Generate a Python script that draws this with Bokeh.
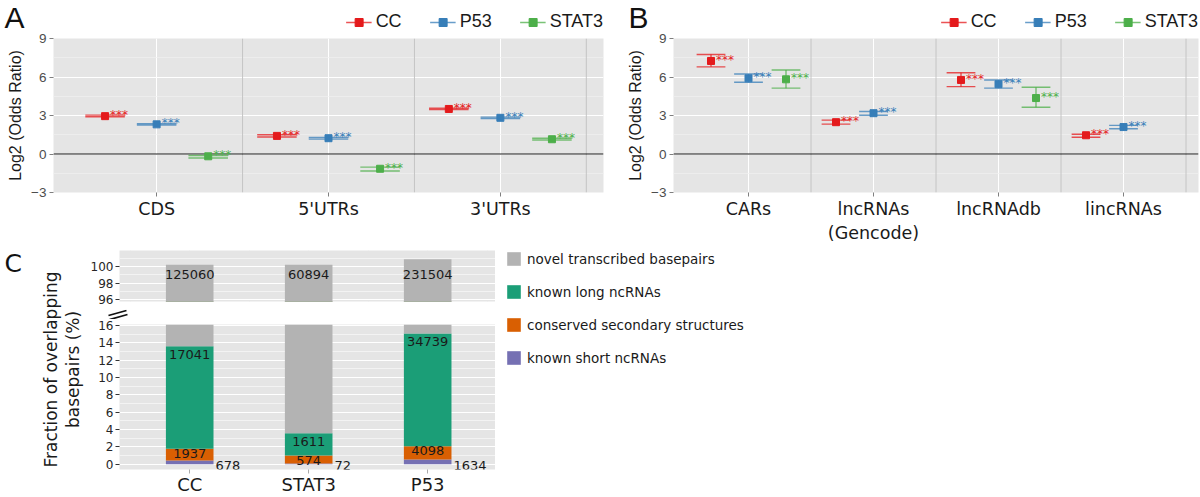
import math
import numpy as np
from bokeh.plotting import figure
from bokeh.layouts import row, column
from bokeh.models import (ColumnDataSource, Range1d, FixedTicker, Span, Label,
                          Legend, LegendItem, Arrow)
from bokeh.core.properties import value
from bokeh.embed import file_html
from bokeh.resources import INLINE

# ---------------- data ----------------
series_names = ["CC", "P53", "STAT3"]
significance = "***"

a_categories = ["CDS", "5'UTRs", "3'UTRs"]
a_cc_est = [2.95, 1.41, 3.51]
a_cc_low = [2.90, 1.33, 3.46]
a_cc_high = [3.03, 1.50, 3.57]
a_p53_est = [2.31, 1.23, 2.82]
a_p53_low = [2.26, 1.16, 2.77]
a_p53_high = [2.36, 1.29, 2.87]
a_stat3_est = [-0.18, -1.15, 1.15]
a_stat3_low = [-0.31, -1.33, 1.09]
a_stat3_high = [-0.12, -1.02, 1.23]

b_categories = ["CARs", "lncRNAs\n(Gencode)", "lncRNAdb", "lincRNAs"]
b_cc_est = [7.25, 2.48, 5.77, 1.46]
b_cc_low = [6.79, 2.33, 5.25, 1.31]
b_cc_high = [7.75, 2.64, 6.33, 1.54]
b_p53_est = [5.90, 3.18, 5.44, 2.10]
b_p53_low = [5.59, 3.02, 5.13, 1.97]
b_p53_high = [6.23, 3.31, 5.77, 2.23]
b_stat3_est = [5.82, None, 4.36, None]
b_stat3_low = [5.13, None, 3.64, None]
b_stat3_high = [6.54, None, 5.20, None]

c_groups = ["CC", "STAT3", "P53"]
c_layers = ["known short ncRNAs", "conserved secondary structures",
            "known long ncRNAs", "novel transcribed basepairs"]
c_short = [0.45, 0.10, 0.56]
c_conserved = [1.35, 0.90, 1.52]
c_long = [11.80, 2.58, 12.99]
c_novel = [86.60, 96.62, 85.78]
c_short_n = [678, 72, 1634]
c_conserved_n = [1937, 574, 4098]
c_long_n = [17041, 1611, 34739]
c_novel_n = [125060, 60894, 231504]
c_top_ticks = [96, 98, 100]
c_bottom_ticks = [0, 2, 4, 6, 8, 10, 12, 14, 16]
odds_ticks = [-3, 0, 3, 6, 9]

# ---------------- styles ----------------
SERIES_COLORS = {"CC": "#e41a1c", "P53": "#377eb8", "STAT3": "#4daf4a"}
DODGE = {"CC": -0.3, "P53": 0.0, "STAT3": 0.3}
CAP = 0.115
BG = "#e5e5e5"
LAYER_COLORS = ["#7570b3", "#d95f02", "#1b9e77", "#b3b3b3"]
HEADER_H = 32
GAP_W, GAP_H = 408, 11


def blank(width, height, xr=(0, 1), yr=(0, 1), **borders):
    kw = dict(min_border=0)
    kw.update(borders)
    p = figure(width=width, height=height, x_axis_location=None, y_axis_location=None,
               x_range=Range1d(*xr), y_range=Range1d(*yr), output_backend="svg",
               toolbar_location=None, **kw)
    p.outline_line_color = None
    p.grid.visible = False
    p.background_fill_color = "white"
    p.border_fill_color = "white"
    return p


def odds_panel(categories, series, width, border_left, border_right):
    n = len(categories)
    p = figure(width=width, height=245 - HEADER_H,
               min_border_left=border_left, min_border_right=border_right,
               min_border_top=38 - HEADER_H, min_border_bottom=51,
               x_range=Range1d(-0.6, n - 0.4), y_range=Range1d(-3, 9),
               output_backend="svg", toolbar_location=None)
    p.background_fill_color = BG
    p.border_fill_color = "white"
    p.outline_line_color = None

    p.xaxis.ticker = FixedTicker(ticks=list(range(n)))
    p.xaxis.major_label_overrides = {i: c for i, c in enumerate(categories)}
    p.yaxis.ticker = FixedTicker(ticks=odds_ticks,
                                 minor_ticks=[t + 1.5 for t in odds_ticks[:-1]])
    p.yaxis.major_label_overrides = {t: str(t).replace("-", "\u2212") for t in odds_ticks}
    p.xgrid.grid_line_color = "white"
    p.xgrid.grid_line_width = 1
    p.ygrid.grid_line_color = "white"
    p.ygrid.grid_line_width = 1
    p.ygrid.minor_grid_line_color = "#f1f1f1"
    p.ygrid.minor_grid_line_width = 0.7

    for i in range(n):
        p.add_layout(Span(location=i + 0.5, dimension="height", line_color="#c4c4c4",
                          line_width=1, level="underlay"))
    p.add_layout(Span(location=0, dimension="width", line_color="#1a1a1a",
                      line_width=1, level="underlay"))

    sources = {}
    for name in series_names:
        est, low, high = series[name]
        xs, ys, lo, hi = [], [], [], []
        for i in range(n):
            if est[i] is None:
                continue
            xs.append(i + DODGE[name])
            ys.append(est[i])
            lo.append(low[i])
            hi.append(high[i])
        src = ColumnDataSource(dict(x=xs, y=ys, lo=lo, hi=hi,
                                    xl=[x - CAP for x in xs], xr=[x + CAP for x in xs]))
        sources[name] = src
        col = SERIES_COLORS[name]
        p.segment(x0="x", y0="lo", x1="x", y1="hi", source=src,
                  line_color=col, line_width=1.4, line_alpha=0.75)
        p.segment(x0="xl", y0="lo", x1="xr", y1="lo", source=src,
                  line_color=col, line_width=1.4, line_alpha=0.75)
        p.segment(x0="xl", y0="hi", x1="xr", y1="hi", source=src,
                  line_color=col, line_width=1.4, line_alpha=0.75)
        p.scatter(x="x", y="y", source=src, marker="square", size=7,
                  fill_color=col, line_color=col)
        p.text(x="x", y="y", text=value(significance), source=src, x_offset=5,
               y_offset=-1, text_align="left", text_baseline="middle", text_color=col,
               text_font=value("DejaVu Sans"), text_font_size="12px")

    for ax in (p.xaxis[0], p.yaxis[0]):
        ax.axis_line_color = None
        ax.major_tick_in = 0
        ax.major_tick_out = 4
        ax.major_tick_line_color = "#7f7f7f"
        ax.minor_tick_line_color = None
    p.yaxis.major_label_text_font = "Liberation Sans"
    p.yaxis.major_label_text_font_size = "13.5px"
    p.yaxis.major_label_text_color = "#4d4d4d"
    p.yaxis.major_label_standoff = 3
    p.yaxis.axis_label = "Log2 (Odds Ratio)"
    p.yaxis.axis_label_text_font = "Liberation Sans"
    p.yaxis.axis_label_text_font_size = "16px"
    p.yaxis.axis_label_text_font_style = "normal"
    p.yaxis.axis_label_text_color = "#1a1a1a"
    p.yaxis.axis_label_standoff = 4
    p.xaxis.major_label_text_font = "DejaVu Sans"
    p.xaxis.major_label_text_font_size = "17.5px"
    p.xaxis.major_label_text_color = "#1a1a1a"
    p.xaxis.major_label_standoff = 2
    return p, sources


def header(letter, width, letter_x, border_right, sources):
    h = blank(width, HEADER_H, min_border_right=border_right)
    items = []
    for name in series_names:
        col = SERIES_COLORS[name]
        src = sources[name]
        stem = h.segment(x0="x", y0="lo", x1="x", y1="hi", source=src, visible=False,
                         line_color=col, line_width=1.4, line_alpha=0.75)
        pts = h.scatter(x="x", y="y", source=src, marker="square", size=7, visible=False,
                        fill_color=col, line_color=col)
        items.append(LegendItem(label=name, renderers=[stem, pts]))
    leg = Legend(items=items, orientation="horizontal", location="bottom_right",
                 label_text_font="Liberation Sans", label_text_font_size="18px",
                 label_text_color="#1a1a1a",
                 glyph_width=26, glyph_height=20, label_height=20, label_standoff=4,
                 spacing=28, padding=0, margin=0, border_line_color=None,
                 background_fill_alpha=0, inactive_fill_alpha=0)
    h.add_layout(leg)
    h.add_layout(Label(x=letter_x, y=HEADER_H, x_units="screen", y_units="screen",
                       text=letter, text_font="Liberation Sans", text_font_size="30px",
                       text_color="#111111", text_align="left", text_baseline="top"))
    return h


pA, srcA = odds_panel(a_categories,
                      {"CC": (a_cc_est, a_cc_low, a_cc_high),
                       "P53": (a_p53_est, a_p53_low, a_p53_high),
                       "STAT3": (a_stat3_est, a_stat3_low, a_stat3_high)},
                      608, 53, 5)
pB, srcB = odds_panel(b_categories,
                      {"CC": (b_cc_est, b_cc_low, b_cc_high),
                       "P53": (b_p53_est, b_p53_low, b_p53_high),
                       "STAT3": (b_stat3_est, b_stat3_low, b_stat3_high)},
                      592, 65, 2)
hA = header("A", 608, 4, 5, srcA)
hB = header("B", 592, 20, 2, srcB)

# ---------------- panel C ----------------
stack = np.vstack([c_short, c_conserved, c_long, c_novel])
cum = np.cumsum(stack, axis=0)
c_x = list(range(len(c_groups)))
src_c = ColumnDataSource(dict(
    x=c_x, x_right=[x + 0.2 for x in c_x],
    short=c_short, conserved=c_conserved, long=c_long, novel=c_novel,
    cum_short=list(cum[0]), cum_cons=list(cum[1]), cum_long=list(cum[2]), cum_novel=list(cum[3]),
    n_short=[str(v) for v in c_short_n], n_cons=[str(v) for v in c_conserved_n],
    n_long=[str(v) for v in c_long_n], n_novel=[str(v) for v in c_novel_n]))
c_xr = Range1d(-0.59, 2.57)
TXT = dict(text_font=value("DejaVu Sans"), text_font_size="13px", text_color="#1a1a1a")
STACK_COLS = ["short", "conserved", "long", "novel"]


def style_c(p, ticks):
    p.background_fill_color = BG
    p.border_fill_color = "white"
    p.outline_line_color = None
    p.yaxis.ticker = FixedTicker(ticks=ticks, minor_ticks=[t + 1 for t in ticks])
    p.ygrid.grid_line_color = "white"
    p.ygrid.grid_line_width = 1
    p.ygrid.minor_grid_line_color = "white"
    p.ygrid.minor_grid_line_alpha = 0.55
    p.yaxis.axis_line_color = None
    p.yaxis.major_tick_in = 0
    p.yaxis.major_tick_out = 4
    p.yaxis.major_tick_line_color = "#333333"
    p.yaxis.minor_tick_line_color = None
    p.yaxis.major_label_text_font = "DejaVu Sans"
    p.yaxis.major_label_text_font_size = "12px"
    p.yaxis.major_label_text_color = "#262626"
    p.yaxis.major_label_standoff = 2
    return p.vbar_stack(STACK_COLS, x="x", width=0.4,
                        fill_color=LAYER_COLORS, line_color=None, source=src_c)


pCtop = figure(width=408, height=63, min_border_left=30, min_border_right=0,
               min_border_top=5, min_border_bottom=7, x_range=c_xr,
               y_range=Range1d(95.8, 101.9), x_axis_location=None,
               output_backend="svg", toolbar_location=None)
style_c(pCtop, c_top_ticks)
pCtop.text(x="x", y=99, text="n_novel", source=src_c, text_align="center",
           text_baseline="middle", **TXT)

# gap strip between the two halves of the broken axis (pixel-based ranges)
pCgap = blank(GAP_W, GAP_H, xr=(0, GAP_W), yr=(0, GAP_H))
pCgap.frame_align = False
for (xs0, ys0, xs1, ys1) in [(21, 5, 39, 10), (22, 1, 40, 6)]:
    pCgap.add_layout(Arrow(x_start=xs0, y_start=ys0, x_end=xs1, y_end=ys1, end=None,
                           line_color="#111111", line_width=1.8))

pCbot = figure(width=408, height=178, min_border_left=30, min_border_right=0,
               min_border_top=5, min_border_bottom=25, x_range=c_xr,
               y_range=Range1d(-0.6, 16.1), output_backend="svg", toolbar_location=None)
style_c(pCbot, c_bottom_ticks)
pCbot.xgrid.grid_line_color = None
pCbot.xaxis.ticker = FixedTicker(ticks=c_x)
pCbot.xaxis.major_label_overrides = {i: g for i, g in enumerate(c_groups)}
pCbot.xaxis.axis_line_color = None
pCbot.xaxis.major_tick_in = 0
pCbot.xaxis.major_tick_out = 4
pCbot.xaxis.major_tick_line_color = "#aaaaaa"
pCbot.xaxis.minor_tick_line_color = None
pCbot.xaxis.major_label_text_font = "DejaVu Sans"
pCbot.xaxis.major_label_text_font_size = "18px"
pCbot.xaxis.major_label_text_color = "#1a1a1a"
pCbot.xaxis.major_label_standoff = 0
pCbot.text(x="x", y="cum_long", text="n_long", source=src_c, text_align="center",
           text_baseline="top", y_offset=4, **TXT)
pCbot.text(x="x", y="cum_cons", text="n_cons", source=src_c, text_align="center",
           text_baseline="top", y_offset=0, **TXT)
pCbot.text(x="x_right", y=0, text="n_short", source=src_c, text_align="left",
           text_baseline="middle", x_offset=2, y_offset=1, **TXT)

pClab = blank(87, 252)
pClab.add_layout(Label(x=4, y=249, x_units="screen", y_units="screen", text="C",
                       text_font="DejaVu Sans", text_font_size="25px", text_color="#111111",
                       text_align="left", text_baseline="top"))
pClab.add_layout(Label(x=50, y=128, x_units="screen", y_units="screen",
                       text="Fraction of overlapping", angle=math.pi / 2,
                       text_font="DejaVu Sans", text_font_size="17px", text_color="#1a1a1a",
                       text_align="center", text_baseline="middle"))
pClab.add_layout(Label(x=72, y=128, x_units="screen", y_units="screen",
                       text="basepairs (%)", angle=math.pi / 2,
                       text_font="DejaVu Sans", text_font_size="17px", text_color="#1a1a1a",
                       text_align="center", text_baseline="middle"))

pCleg = blank(705, 252, min_border_left=10, min_border_top=5)
leg_renderers = pCleg.vbar_stack(STACK_COLS, x="x", width=0.4, fill_color=LAYER_COLORS,
                                 line_color=None, source=src_c)
for r in leg_renderers:
    r.visible = False
leg_items = [LegendItem(label=lab, renderers=[r])
             for lab, r in zip(c_layers, leg_renderers)][::-1]
legC = Legend(items=leg_items, location="top_left", orientation="vertical",
              label_text_font="DejaVu Sans", label_text_font_size="13.5px",
              label_text_color="#1a1a1a", glyph_width=17, glyph_height=17,
              label_height=17, spacing=16, label_standoff=5, padding=0, margin=0,
              border_line_color=None, background_fill_alpha=0, inactive_fill_alpha=0)
pCleg.add_layout(legC)

layout = column(row(hA, hB), row(pA, pB),
                row(pClab, column(pCtop, pCgap, pCbot), pCleg))

open("out.html", "w").write(file_html(layout, INLINE))
